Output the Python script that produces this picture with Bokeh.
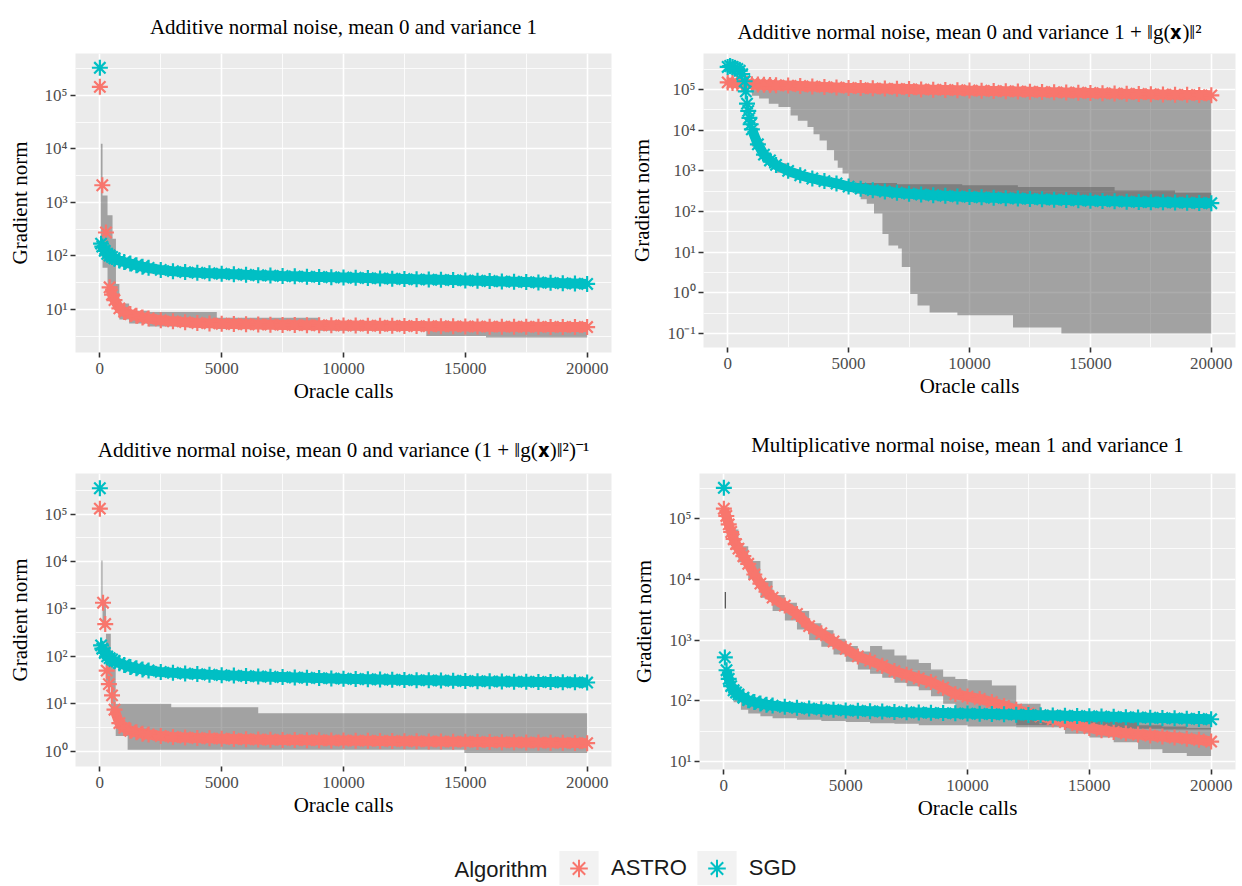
from bokeh.plotting import figure
from bokeh.layouts import column, row
from bokeh.models import (Range1d, FixedTicker, CustomJSTickFormatter, Legend,
                          LegendItem, Label, ColumnDataSource)
from bokeh.embed import file_html
from bokeh.resources import INLINE

# ---------------- data ----------------
ALGORITHMS = ["ASTRO", "SGD"]
LEGEND_TITLE = "Algorithm"
COLORS = {"ASTRO": "#F8766D", "SGD": "#00BFC4"}

TITLES = [
    "Additive normal noise, mean 0 and variance 1",
    "Additive normal noise, mean 0 and variance 1 + \u2016g(\U0001D431)\u2016\u00b2",
    "Additive normal noise, mean 0 and variance (1 + \u2016g(\U0001D431)\u2016\u00b2)\u207b\u00b9",
    "Multiplicative normal noise, mean 1 and variance 1",
]
X_LABEL = "Oracle calls"
Y_LABEL = "Gradient norm"

X_TICKS = [0, 5000, 10000, 15000, 20000]
X_MINOR = [2500, 7500, 12500, 17500]

Y_TICK_VALUES = [0.1, 1, 10, 100, 1000, 10000, 100000]
Y_TICK_LABELS = ["10\u207b\u00b9", "10\u2070", "10\u00b9", "10\u00b2", "10\u00b3", "10\u2074", "10\u2075"]
Y_MINOR = [0.03162, 0.3162, 3.162, 31.62, 316.2, 3162, 31623, 316228]

TAIL = [2500, 3000, 3500, 4000, 4500, 5000, 5500, 6000, 6500, 7000, 7500, 8000,
        8500, 9000, 9500, 10000, 10500, 11000, 11500, 12000, 12500, 13000, 13500,
        14000, 14500, 15000, 15500, 16000, 16500, 17000, 17500, 18000, 18500,
        19000, 19500, 20000]

# Panel 1
p1_astro_calls = [0, 100, 250, 400, 500, 600, 800, 1000, 1250, 1500, 1750, 2000] + TAIL
p1_astro_norm = [1.45e5, 2100, 275, 26, 19, 15, 10.5, 9.0, 8.2, 7.6, 7.1, 6.8,
                 6.3, 6.0, 5.8, 5.6, 5.5, 5.4, 5.35, 5.3, 5.25, 5.2, 5.15, 5.12,
                 5.1, 5.07, 5.05, 5.02, 5.0, 4.98, 4.96, 4.94, 4.92, 4.9, 4.88,
                 4.86, 4.84, 4.82, 4.8, 4.78, 4.77, 4.76, 4.75, 4.74, 4.73, 4.72,
                 4.71, 4.7]
p1_sgd_calls = [0, 50, 100, 200, 300, 400, 500, 600, 800, 1000, 1250, 1500, 1750, 2000] + TAIL
p1_sgd_norm = [3.3e5, 170, 150, 125, 110, 102, 96, 90, 82, 77, 72, 67, 63, 60,
               55, 52, 50, 48.5, 47.5, 46.5, 45.5, 44.5, 43.7, 43, 42.3, 41.7,
               41.1, 40.6, 40.1, 39.6, 39.1, 38.6, 38.1, 37.6, 37.1, 36.6, 36.2,
               35.8, 35.4, 35.0, 34.5, 34, 33.5, 33, 32.5, 32, 31.5, 31, 30.5, 30]
p1_astro_band_calls = [40, 110, 315, 520, 660, 800, 1200, 2000, 4800, 9000, 13400, 15850, 20000]
p1_astro_band_lo = [100, 60, 20, 12, 9, 6.5, 5.5, 4.8, 4.3, 4.0, 3.2, 3.0, 3.0]
p1_astro_band_hi = [12500, 1350, 580, 210, 30, 13, 9.5, 9.0, 7.0, 6.0, 5.8, 5.6, 5.6]
p1_sgd_band_calls = [100, 500, 1000, 2000, 4000, 8000, 14000, 20000]
p1_sgd_band_lo = [110, 75, 60, 47, 40, 34, 30, 27]
p1_sgd_band_hi = [125, 82, 66, 52, 44, 38, 33, 31]

# Panel 2
p2_astro_calls = [0, 200, 400, 600, 800, 1000, 1250, 1500, 1750, 2000] + TAIL
p2_astro_norm = [1.5e5, 1.45e5, 1.42e5, 1.4e5, 1.38e5, 1.35e5, 1.33e5, 1.31e5, 1.29e5, 1.28e5,
                 1.25e5, 1.22e5, 1.19e5, 1.16e5, 1.13e5, 1.10e5, 1.085e5, 1.07e5,
                 1.055e5, 1.04e5, 1.025e5, 1.01e5, 9.95e4, 9.8e4, 9.65e4, 9.5e4,
                 9.37e4, 9.24e4, 9.11e4, 8.98e4, 8.85e4, 8.72e4, 8.6e4, 8.48e4,
                 8.36e4, 8.24e4, 8.12e4, 8.0e4, 7.9e4, 7.8e4, 7.7e4, 7.6e4, 7.5e4,
                 7.4e4, 7.3e4, 7.2e4]
p2_sgd_calls = [0, 100, 200, 300, 400, 500, 600, 700, 750, 800, 850, 900, 950, 1000,
                1250, 1500, 1750, 2000] + TAIL
p2_sgd_norm = [3.6e5, 3.8e5, 3.6e5, 3.4e5, 3.2e5, 2.9e5, 2.4e5, 1.6e5, 9e4, 4.5e4,
               3e4, 2e4, 1.4e4, 1.05e4, 4500, 2500, 1800, 1400,
               1000, 780, 650, 560, 490, 410, 365, 335, 310, 290, 275, 262, 252,
               243, 235, 229, 223, 218, 213, 209, 204, 200, 196, 192, 188, 184,
               181, 178, 175, 172, 170, 168, 166, 164, 162, 160]
p2_astro_band_calls = [1000, 1300, 1700, 2100, 2600, 2900, 3300, 3550, 3800, 4100, 4400,
                       4550, 4750, 5000, 5250, 5500, 5750, 6050, 6400, 6650, 7050, 7200,
                       7550, 7850, 8350, 9500, 11800, 13800, 20000]
p2_astro_band_lo = [7e4, 6e4, 4.5e4, 3.7e4, 2.3e4, 1.7e4, 1.2e4, 8000, 5600, 3200, 1800,
                    1200, 860, 500, 275, 200, 155, 89, 28, 14.5, 12.3, 4.3, 0.93, 0.49,
                    0.33, 0.28, 0.14, 0.10, 0.10]
p2_astro_band_hi = [1.3e5, 1.3e5, 1.25e5, 1.25e5, 1.2e5, 1.18e5, 1.15e5, 1.13e5, 1.12e5,
                    1.11e5, 1.1e5, 1.09e5, 1.08e5, 1.07e5, 1.06e5, 1.055e5, 1.05e5,
                    1.04e5, 1.03e5, 1.02e5, 1.0e5, 1.0e5, 9.8e4, 9.6e4, 9.4e4, 9e4,
                    8.5e4, 8e4, 8e4]
p2_sgd_band_calls = [1000, 1250, 1500, 1750, 2000, 2500, 3000, 3500, 4000, 4500, 5000,
                     7000, 9700, 12000, 16000, 18500, 20000]
p2_sgd_band_lo = [4000, 2300, 1600, 1250, 900, 700, 590, 510, 440, 370, 300, 230,
                  200, 178, 150, 140, 136]
p2_sgd_band_hi = [1.15e4, 5000, 2750, 2000, 1550, 1100, 860, 720, 620, 540, 500, 470,
                  440, 400, 330, 290, 290]

# Panel 3
p3_astro_calls = [0, 130, 220, 280, 370, 500, 600, 800, 1000, 1250, 1500, 1750, 2000] + TAIL
p3_astro_norm = [1.3e5, 1350, 480, 50, 26, 15, 7.5, 3.9, 3.1, 2.7, 2.5, 2.35, 2.25,
                 2.1, 2.0, 1.95, 1.9, 1.87, 1.84, 1.81, 1.79, 1.77, 1.75, 1.73, 1.72,
                 1.71, 1.70, 1.69, 1.68, 1.67, 1.66, 1.65, 1.64, 1.63, 1.62, 1.61,
                 1.6, 1.59, 1.58, 1.57, 1.56, 1.55, 1.54, 1.53, 1.52, 1.51, 1.5,
                 1.49, 1.48]
p3_sgd_calls = [0, 50, 100, 200, 300, 400, 500, 600, 800, 1000, 1250, 1500, 1750, 2000] + TAIL
p3_sgd_norm = [3.5e5, 170, 145, 118, 100, 92, 86, 80, 72, 66, 60, 56, 53, 50.5,
               47, 45, 43.5, 42.3, 41.2, 40.2, 39.3, 38.5, 37.8, 37.1, 36.5, 35.9,
               35.3, 34.8, 34.3, 33.8, 33.4, 33.0, 32.6, 32.2, 31.8, 31.5, 31.2,
               30.9, 30.6, 30.3, 30.0, 29.7, 29.5, 29.3, 29.1, 28.9, 28.7, 28.5,
               28.3, 28.1]
p3_astro_band_calls = [60, 110, 250, 450, 650, 1140, 2930, 6500, 14960, 20000]
p3_astro_band_lo = [1500, 400, 30, 6, 2.1, 1.07, 1.07, 1.07, 0.92, 0.92]
p3_astro_band_hi = [10500, 1500, 300, 60, 10, 10, 8.5, 6.3, 6.3, 6.3]
p3_sgd_band_calls = [100, 500, 1000, 2000, 4000, 8000, 14000, 20000]
p3_sgd_band_lo = [110, 70, 55, 44, 37, 32, 28, 26]
p3_sgd_band_hi = [125, 80, 62, 49, 41, 36, 32, 30]

# Panel 4
p4_astro_calls = [0, 100, 200, 300, 400, 500, 600, 800, 1000, 1250, 1500, 1750, 2000] + TAIL
p4_astro_norm = [1.45e5, 1.1e5, 8e4, 6e4, 4.6e4, 3.8e4, 3.2e4, 2.4e4, 1.8e4, 1.2e4,
                 8500, 6300, 5000,
                 3700, 2700, 1700, 1300, 950, 720, 540, 460, 380, 310, 270, 235,
                 205, 165, 130, 118, 108, 96, 83, 72, 63, 56, 50, 45, 40, 36, 33,
                 31, 29.5, 28, 27, 26, 25, 24, 23, 21.5]
p4_sgd_calls = [0, 40, 110, 200, 300, 400, 500, 600, 800, 1000, 1250, 1500, 1750, 2000] + TAIL
p4_sgd_norm = [3.2e5, 520, 320, 230, 175, 150, 138, 128, 113, 103, 96, 91, 87, 84,
               80, 77, 75, 73, 71.5, 70, 69, 68, 67, 66, 65.2, 64.5, 63.8, 63.2,
               62.6, 62, 61.4, 60.8, 60.2, 59.6, 59, 58.4, 57.8, 57.2, 56.6, 56,
               55.4, 54.8, 54.2, 53.6, 53, 52.4, 51.8, 51.2, 50.6, 50]
p4_astro_band_calls = [300, 600, 1000, 1500, 2000, 2500, 3000, 3500, 4000, 4500, 5000,
                       5500, 6000, 6500, 7000, 7500, 8000, 8500, 9000, 9500, 10000,
                       11000, 12000, 13000, 14000, 15000, 16000, 17000, 18000, 19000,
                       20000]
p4_astro_band_lo = [3.5e4, 1.9e4, 1e4, 5000, 3000, 2100, 1500, 1000, 780, 580, 440, 330,
                    280, 240, 200, 175, 150, 120, 90, 70, 62, 50, 40, 40, 29, 25, 21,
                    16, 14, 12.5, 12]
p4_astro_band_hi = [6.6e4, 3.5e4, 2e4, 9400, 5500, 4100, 3000, 1900, 1450, 1050, 800,
                    650, 800, 700, 560, 480, 420, 330, 250, 230, 220, 180, 90, 70, 60,
                    50, 45, 40, 38, 36, 36]
p4_sgd_band_calls = [200, 400, 700, 1000, 1500, 2000, 3000, 4000, 5000, 6000, 7000,
                     8000, 10000, 12000, 14000, 16000, 18000, 20000]
p4_sgd_band_lo = [140, 95, 72, 62, 56, 52, 49, 47, 45, 43, 42, 40, 38, 37, 36, 35, 34, 34]
p4_sgd_band_hi = [240, 160, 135, 112, 98, 90, 83, 78, 74, 71, 69, 67, 65, 62, 60, 57, 55, 55]
p4_spike_calls = [60]
p4_spike_lo = [3300]
p4_spike_hi = [6200]

# ---------------- style ----------------
SERIF = "Liberation Serif"
SANS = "Liberation Sans"
PANEL_BG = "#EBEBEB"
BAND_FILL = "#595959"


def blank_strip(width, height):
    s = figure(width=width, height=height, x_range=Range1d(0, 1), y_range=Range1d(0, 1),
               toolbar_location=None, output_backend="svg", min_border=0,
               outline_line_color=None, x_axis_location=None, y_axis_location=None,
               border_fill_color="white", background_fill_color="white")
    s.xgrid.visible = False
    s.ygrid.visible = False
    return s


def title_strip(width, height, text, cx, baseline):
    s = blank_strip(width, height)
    s.add_layout(Label(x=cx, y=baseline, x_units="screen", y_units="screen", text=text,
                       text_font=SERIF, text_font_size="21px", text_color="black",
                       text_align="center", text_baseline="alphabetic"))
    return s


def make_panel(ylo, yhi, frame_w, frame_h, mb_left, mb_right, mb_top, mb_bottom):
    p = figure(frame_width=frame_w, frame_height=frame_h,
               x_range=Range1d(-1000, 21000), y_range=Range1d(ylo, yhi),
               y_axis_type="log", toolbar_location=None, output_backend="svg",
               min_border_left=mb_left, min_border_right=mb_right,
               min_border_top=mb_top, min_border_bottom=mb_bottom,
               background_fill_color=PANEL_BG, border_fill_color="white",
               outline_line_color=None)
    p.xaxis.ticker = FixedTicker(ticks=X_TICKS, minor_ticks=X_MINOR)
    p.yaxis.ticker = FixedTicker(ticks=Y_TICK_VALUES, minor_ticks=Y_MINOR)
    p.yaxis.formatter = CustomJSTickFormatter(
        args=dict(vals=Y_TICK_VALUES, labs=Y_TICK_LABELS),
        code="""
        for (let i = 0; i < vals.length; i++) {
            if (Math.abs(Math.log10(vals[i]) - Math.log10(tick)) < 1e-6) return labs[i];
        }
        return "";
        """)
    for ax in (p.xaxis, p.yaxis):
        ax.axis_line_color = None
        ax.major_tick_line_color = "#333333"
        ax.major_tick_line_width = 1.6
        ax.major_tick_in = 0
        ax.major_tick_out = 5
        ax.minor_tick_line_color = None
        ax.major_label_text_font = SERIF
        ax.major_label_text_font_size = "17px"
        ax.major_label_text_color = "#4D4D4D"
        ax.axis_label_text_font = SERIF
        ax.axis_label_text_font_size = "21px"
        ax.axis_label_text_font_style = "normal"
        ax.axis_label_text_color = "black"
    p.xaxis.axis_label = X_LABEL
    p.yaxis.axis_label = Y_LABEL
    p.xaxis.major_label_standoff = 5
    p.yaxis.major_label_standoff = 3
    p.xaxis.axis_label_standoff = 2
    p.yaxis.axis_label_standoff = 10

    for g in (p.xgrid, p.ygrid):
        g.grid_line_color = "white"
        g.grid_line_width = 1.6
        g.minor_grid_line_color = "white"
        g.minor_grid_line_width = 0.8
    return p


def add_band(p, calls, lo, hi):
    p.varea_step(x=calls, y1=lo, y2=hi, step_mode="after",
                 fill_color=BAND_FILL, fill_alpha=0.5)


def add_series(p, calls, norm, color, line_start):
    p.line(calls[line_start:], norm[line_start:], line_color=color, line_width=10)
    p.scatter(calls, norm, marker="asterisk", size=16, line_color=color, line_width=2.2)


# Page origin is the top-left corner (Bokeh's page template has no body margin).
LEFT_W, RIGHT_W = 624, 617

t1 = title_strip(LEFT_W, 46, TITLES[0], 75 + 268, 20)
t2 = title_strip(RIGHT_W, 46, TITLES[1], 79 + 266, 15)
t3 = title_strip(LEFT_W, 54, TITLES[2], 75 + 268, 16.5)
t4 = title_strip(RIGHT_W, 54, TITLES[3], 75 + 268, 21.5)

f1 = make_panel(10 ** 0.196, 10 ** 5.785, 536, 299, 75, 13, 2, 65)
add_band(f1, p1_astro_band_calls, p1_astro_band_lo, p1_astro_band_hi)
add_band(f1, p1_sgd_band_calls, p1_sgd_band_lo, p1_sgd_band_hi)
add_series(f1, p1_astro_calls, p1_astro_norm, COLORS["ASTRO"], 3)
add_series(f1, p1_sgd_calls, p1_sgd_norm, COLORS["SGD"], 1)

f2 = make_panel(10 ** -1.345, 10 ** 5.887, 532, 294, 79, 6, 7, 65)
add_band(f2, p2_astro_band_calls, p2_astro_band_lo, p2_astro_band_hi)
add_band(f2, p2_sgd_band_calls, p2_sgd_band_lo, p2_sgd_band_hi)
add_series(f2, p2_astro_calls, p2_astro_norm, COLORS["ASTRO"], 0)
add_series(f2, p2_sgd_calls, p2_sgd_norm, COLORS["SGD"], 13)

f3 = make_panel(10 ** -0.322, 10 ** 5.855, 536, 293, 75, 13, 7, 62)
add_band(f3, p3_astro_band_calls, p3_astro_band_lo, p3_astro_band_hi)
add_band(f3, p3_sgd_band_calls, p3_sgd_band_lo, p3_sgd_band_hi)
add_series(f3, p3_astro_calls, p3_astro_norm, COLORS["ASTRO"], 6)
add_series(f3, p3_sgd_calls, p3_sgd_norm, COLORS["SGD"], 1)

f4 = make_panel(10 ** 0.873, 10 ** 5.74, 536, 296, 75, 6, 4, 62)
add_band(f4, p4_astro_band_calls, p4_astro_band_lo, p4_astro_band_hi)
add_band(f4, p4_sgd_band_calls, p4_sgd_band_lo, p4_sgd_band_hi)
f4.segment(x0=p4_spike_calls, y0=p4_spike_lo, x1=p4_spike_calls, y1=p4_spike_hi,
           line_color="#4D4D4D", line_width=1.2)
add_series(f4, p4_astro_calls, p4_astro_norm, COLORS["ASTRO"], 0)
add_series(f4, p4_sgd_calls, p4_sgd_norm, COLORS["SGD"], 2)

# legend strip (key renderers sit outside the strip's visible range)
fl = blank_strip(LEFT_W + RIGHT_W, 57)
items = []
for alg in ALGORITHMS:
    src = ColumnDataSource(dict(x=[5], y=[5]))
    bg = fl.rect(x="x", y="y", width=0.1, height=0.1, source=src,
                 fill_color="#F2F2F2", line_color=None)
    mk = fl.scatter(x="x", y="y", source=src, marker="asterisk",
                    line_color=COLORS[alg], line_width=2)
    items.append(LegendItem(label=alg, renderers=[bg, mk]))
legend = Legend(items=items, orientation="horizontal", location=(554, -5),
                glyph_width=49, glyph_height=44, label_standoff=8, spacing=5,
                padding=0, margin=0, border_line_color=None, background_fill_alpha=0,
                label_text_font=SANS, label_text_font_size="22px",
                label_text_color="#1A1A1A")
fl.add_layout(legend)
fl.add_layout(Label(x=454, y=16, x_units="screen", y_units="screen", text=LEGEND_TITLE,
                    text_font=SANS, text_font_size="22px", text_baseline="middle",
                    text_align="left", text_color="#1A1A1A"))

root = column(row(t1, t2), row(f1, f2), row(t3, t4), row(f3, f4), fl)
open("out.html", "w").write(file_html(root, INLINE))
